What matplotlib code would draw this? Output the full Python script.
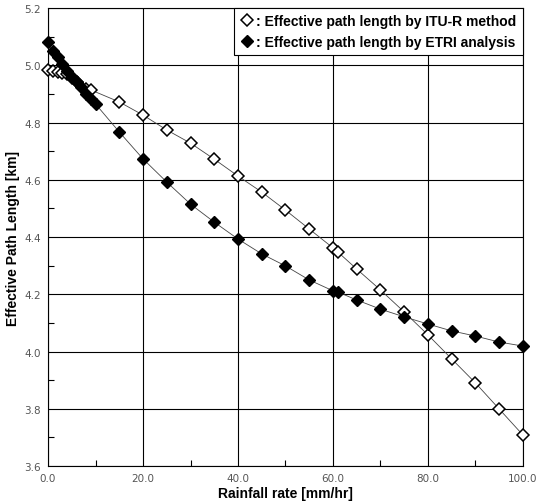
import matplotlib
matplotlib.use('Agg')
import matplotlib.pyplot as plt
from matplotlib.ticker import MultipleLocator, FormatStrFormatter

# ITU-R method (open diamonds)
itu_x = [0, 1, 2, 3, 4, 5, 6, 8, 9, 15, 20, 25, 30, 35, 40, 45, 50, 55, 60, 61,
         65, 70, 75, 80, 85, 90, 95, 100]
itu_y = [4.983, 4.980, 4.976, 4.973, 4.969, 4.955, 4.942, 4.918, 4.914, 4.872, 4.826,
         4.774, 4.728, 4.672, 4.613, 4.557, 4.494, 4.428, 4.362, 4.348,
         4.288, 4.215, 4.138, 4.058, 3.974, 3.890, 3.799, 3.708]

# ETRI analysis (filled diamonds)
etri_x = [0, 1, 2, 3, 4, 5, 6, 7, 8, 9, 10, 15, 20, 25, 30, 35, 40, 45, 50, 55,
          60, 61, 65, 70, 75, 80, 85, 90, 95, 100]
etri_y = [5.080, 5.050, 5.029, 5.004, 4.980, 4.959, 4.941, 4.924, 4.900, 4.882, 4.865,
          4.767, 4.673, 4.592, 4.515, 4.452, 4.393, 4.341, 4.299, 4.250,
          4.212, 4.208, 4.180, 4.148, 4.121, 4.096, 4.072, 4.054, 4.033, 4.019]

fig = plt.figure(figsize=(5.37, 5.02), dpi=100)
ax = fig.add_axes([0.0894, 0.0697, 0.8845, 0.9123])

ax.plot(itu_x, itu_y, color='#444444', lw=0.6, marker='D', ms=6.2,
        mfc='white', mec='black', mew=1.1, clip_on=False, zorder=3,
        label=': Effective path length by ITU-R method')
ax.plot(etri_x, etri_y, color='#444444', lw=0.6, marker='D', ms=6.2,
        mfc='black', mec='black', clip_on=False, zorder=3,
        label=': Effective path length by ETRI analysis')

ax.set_xlim(0, 100)
ax.set_ylim(3.6, 5.2)
ax.xaxis.set_major_locator(MultipleLocator(20))
ax.xaxis.set_minor_locator(MultipleLocator(10))
ax.yaxis.set_major_locator(MultipleLocator(0.2))
ax.yaxis.set_minor_locator(MultipleLocator(0.1))
ax.xaxis.set_major_formatter(FormatStrFormatter('%.1f'))
ax.yaxis.set_major_formatter(FormatStrFormatter('%.1f'))
ax.grid(True, which='major', color='black', lw=0.8)
ax.tick_params(which='both', direction='in', labelsize=7.5, labelcolor='#555555')
ax.tick_params(which='major', length=0, pad=5)
ax.tick_params(which='minor', length=4, width=0.8)
for s in ax.spines.values():
    s.set_linewidth(0.8)

ax.set_xlabel('Rainfall rate [mm/hr]', fontsize=10, fontweight='bold',
              family='Liberation Sans', labelpad=2)
ax.set_ylabel('Effective Path Length [km]', fontsize=10, fontweight='bold',
              family='Liberation Sans', labelpad=3)

leg = ax.legend(loc='upper right', frameon=True, fancybox=False, borderaxespad=0.0,
                handlelength=1.0, handletextpad=0.2, labelspacing=0.45,
                borderpad=0.45, framealpha=1,
                prop={'family': 'Liberation Sans', 'weight': 'bold', 'size': 10})
leg.get_frame().set_edgecolor('black')
leg.get_frame().set_linewidth(0.8)
leg.set_zorder(5)
for h in leg.get_lines():
    h.set_linestyle('none')

fig.savefig('out.png', dpi=100)
